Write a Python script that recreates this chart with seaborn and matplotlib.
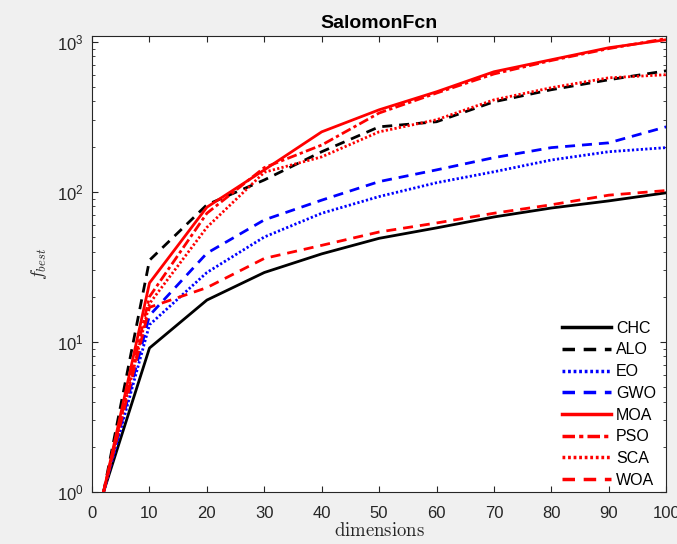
import pandas as pd
import matplotlib.pyplot as plt
import seaborn as sns

# datos
dims = [2, 10, 20, 30, 40, 50, 60, 70, 80, 90, 100]
chc = [1.0, 9.1, 19, 29, 38.6, 49, 57.5, 68, 78, 87, 98.5]
alo = [1.0, 35, 82, 120, 185, 271, 293, 398, 479, 558, 640]
eo = [1.0, 13, 29, 50, 72, 93, 115, 136, 163, 185, 197]
gwo = [1.0, 15, 39, 65, 88, 117, 140, 169, 197, 212, 271]
moa = [1.0, 24.7, 79, 140, 251, 352, 464, 631, 759, 912, 1031]
pso = [1.0, 20, 72, 145, 205, 335, 455, 610, 750, 900, 1050]
sca = [1.0, 18, 58, 135, 171, 251, 302, 410, 494, 575, 603]
woa = [1.0, 17, 23, 36, 44, 54, 62, 72, 82, 95, 102]

algos = ['CHC', 'ALO', 'EO', 'GWO', 'MOA', 'PSO', 'SCA', 'WOA']
series = [chc, alo, eo, gwo, moa, pso, sca, woa]

df = pd.concat([pd.DataFrame({'dimensions': dims, 'fbest': s, 'algo': a})
                for a, s in zip(algos, series)], ignore_index=True)

colores = {'CHC': 'black', 'ALO': 'black', 'EO': 'blue', 'GWO': 'blue',
           'MOA': 'red', 'PSO': 'red', 'SCA': 'red', 'WOA': 'red'}
estilos = {'CHC': '', 'ALO': (3.6, 2.5), 'EO': (0.8, 0.8), 'GWO': (3.6, 2.5),
           'MOA': '', 'PSO': (3.6, 1.2, 1.2, 1.2), 'SCA': (0.8, 0.8), 'WOA': (3.6, 2.5)}

plt.rcParams['font.family'] = ['Liberation Sans', 'DejaVu Sans']

fig = plt.figure(figsize=(6.77, 5.44), dpi=100, facecolor='#f0f0f0')
ax = fig.add_axes([0.136, 0.0956, 0.848, 0.838])

sns.lineplot(data=df, x='dimensions', y='fbest', hue='algo', style='algo',
             hue_order=algos, style_order=algos, palette=colores, dashes=estilos,
             linewidth=2, ax=ax)

ax.set_yscale('log')
ax.set_xlim(0, 100)
ax.set_ylim(1, 1090)
ax.set_xticks(range(0, 101, 10))
ax.tick_params(which='both', direction='in', top=True, right=True,
               labelsize=12, colors='#262626')
ax.tick_params(which='major', length=4)
ax.tick_params(which='minor', length=2)
ax.tick_params(axis='x', pad=10)
ax.tick_params(axis='y', pad=6)
for s in ax.spines.values():
    s.set_color('#262626')
    s.set_linewidth(0.8)

ax.set_title('SalomonFcn', fontsize=14, fontweight='bold', pad=6)
ax.set_xlabel(r'$\mathrm{dimensions}$', fontsize=13.5, math_fontfamily='cm',
              labelpad=1, color='#262626')
ax.set_ylabel(r'$f_{best}$', fontsize=13, math_fontfamily='cm',
              labelpad=6, color='#262626')

leg = ax.legend(loc='lower right', frameon=False, fontsize=11.5,
                handlelength=3.1, handletextpad=0.3, labelspacing=0.42,
                bbox_to_anchor=(1.007, -0.022))
for line in leg.get_lines():
    line.set_linewidth(2.5)

fig.savefig('out.png', dpi=100, facecolor=fig.get_facecolor())
